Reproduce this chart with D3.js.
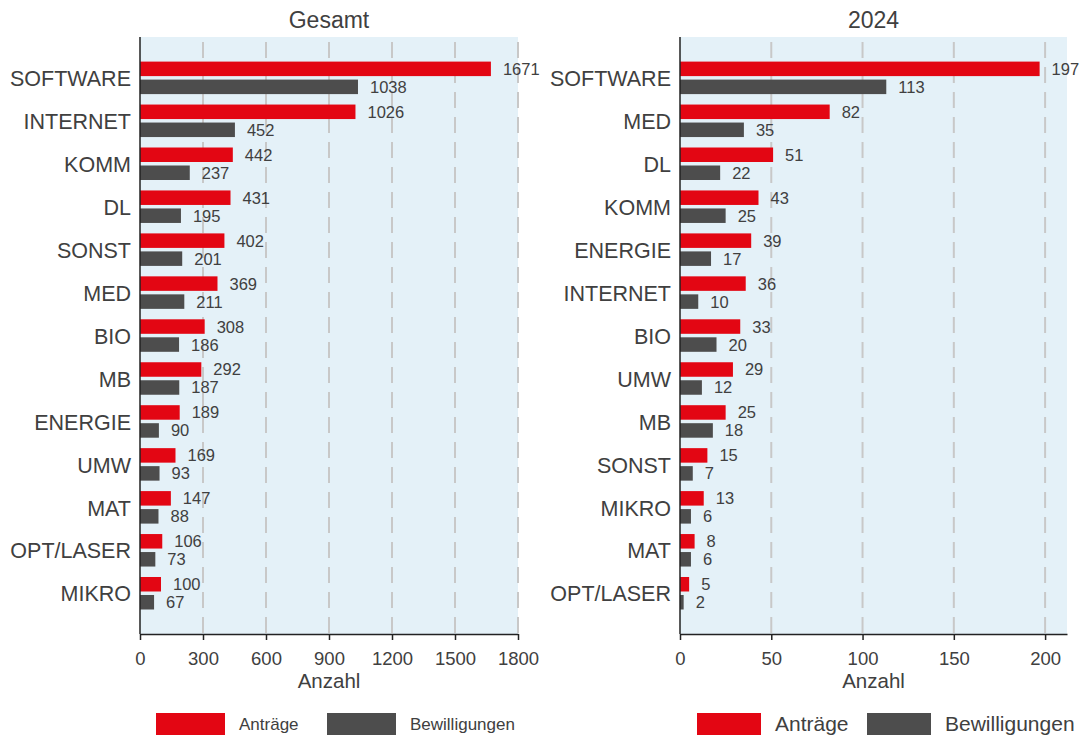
<!DOCTYPE html>
<html>
<head>
<meta charset="utf-8">
<script src="https://cdn.jsdelivr.net/npm/d3@7"></script>
<style>
  body { margin: 0; background: #fff; }
  svg { display: block; font-family: "Liberation Sans", Arial, sans-serif; }
</style>
</head>
<body>
<div id="chart"></div>
<script>
// data
var gesamtKategorien = ["SOFTWARE", "INTERNET", "KOMM", "DL", "SONST", "MED", "BIO", "MB", "ENERGIE", "UMW", "MAT", "OPT/LASER", "MIKRO"];
var gesamtAntraege = [1671, 1026, 442, 431, 402, 369, 308, 292, 189, 169, 147, 106, 100];
var gesamtBewilligungen = [1038, 452, 237, 195, 201, 211, 186, 187, 90, 93, 88, 73, 67];
var gesamtTicks = [0, 300, 600, 900, 1200, 1500, 1800];

var jahrKategorien = ["SOFTWARE", "MED", "DL", "KOMM", "ENERGIE", "INTERNET", "BIO", "UMW", "MB", "SONST", "MIKRO", "MAT", "OPT/LASER"];
var jahrAntraege = [197, 82, 51, 43, 39, 36, 33, 29, 25, 15, 13, 8, 5];
var jahrBewilligungen = [113, 35, 22, 25, 17, 10, 20, 12, 18, 7, 6, 6, 2];
var jahrTicks = [0, 50, 100, 150, 200];

var serien = ["Anträge", "Bewilligungen"];
var farben = ["#e30613", "#4d4d4d"];

var width = 1081,
    height = 738;
var textColor = "#404040";

var svg = d3.select("#chart").append("svg")
    .attr("width", width)
    .attr("height", height);

function drawPanel(opt) {
    var top = 37, bottom = 634;
    var g = svg.append("g");

    var x = d3.scaleLinear().domain([0, opt.max]).range([opt.left, opt.right]);
    var y = d3.scaleBand().domain(opt.cats).range([top, bottom])
        .paddingInner(0).paddingOuter(0.45);

    // background
    g.append("rect")
        .attr("x", opt.left).attr("y", top)
        .attr("width", opt.right - opt.left).attr("height", bottom - top)
        .attr("fill", "#e4f1f8");

    // grid
    g.selectAll(".grid")
        .data(opt.ticks.filter(function(t) { return t > 0; }))
        .enter().append("line")
        .attr("x1", function(d) { return x(d); })
        .attr("x2", function(d) { return x(d); })
        .attr("y1", top).attr("y2", bottom)
        .attr("stroke", "#c8c8c8")
        .attr("stroke-width", 2)
        .attr("stroke-dasharray", "16,9")
        .attr("stroke-dashoffset", -5);

    var bh = 14.5;
    var rows = opt.cats.map(function(c, i) {
        return { cat: c, a: opt.a[i], b: opt.b[i] };
    });

    // bars
    var row = g.selectAll(".row").data(rows).enter().append("g")
        .attr("transform", function(d) { return "translate(0," + (y(d.cat) + y.bandwidth() / 2) + ")"; });

    row.append("rect")
        .attr("x", x(0)).attr("y", -16.2)
        .attr("width", function(d) { return x(d.a) - x(0); })
        .attr("height", bh)
        .attr("fill", farben[0]);
    row.append("rect")
        .attr("x", x(0)).attr("y", 1.8)
        .attr("width", function(d) { return x(d.b) - x(0); })
        .attr("height", bh)
        .attr("fill", farben[1]);

    row.append("text")
        .attr("x", function(d) { return x(d.a) + 12; })
        .attr("y", -16.2 + bh / 2)
        .attr("dy", "0.36em")
        .attr("font-size", 16.5)
        .attr("fill", textColor)
        .text(function(d) { return d.a; });
    row.append("text")
        .attr("x", function(d) { return x(d.b) + 12; })
        .attr("y", 1.8 + bh / 2)
        .attr("dy", "0.36em")
        .attr("font-size", 16.5)
        .attr("fill", textColor)
        .text(function(d) { return d.b; });

    // category labels
    row.append("text")
        .attr("x", opt.left - 9)
        .attr("y", 0.5)
        .attr("dy", "0.36em")
        .attr("text-anchor", "end")
        .attr("font-size", 21.5)
        .attr("fill", textColor)
        .text(function(d) { return d.cat; });

    // axes
    g.append("line")
        .attr("x1", opt.left).attr("x2", opt.left)
        .attr("y1", top).attr("y2", bottom)
        .attr("stroke", "#222").attr("stroke-width", 1.5);

    var xAxis = g.append("g")
        .attr("transform", "translate(0," + bottom + ")")
        .call(d3.axisBottom(x).tickValues(opt.ticks).tickFormat(d3.format("d"))
            .tickSize(6).tickSizeOuter(0).tickPadding(12));
    xAxis.select(".domain").attr("stroke", "#222").attr("stroke-width", 1.5);
    xAxis.selectAll(".tick line").attr("stroke", "#222").attr("stroke-width", 1.5);
    xAxis.selectAll(".tick text")
        .attr("font-size", 18.5)
        .attr("font-family", "Liberation Sans, Arial, sans-serif")
        .attr("fill", textColor);

    g.append("text")
        .attr("x", (opt.left + opt.right) / 2)
        .attr("y", 688)
        .attr("text-anchor", "middle")
        .attr("font-size", 20.5)
        .attr("fill", textColor)
        .text("Anzahl");

    // title
    g.append("text")
        .attr("x", (opt.left + opt.right) / 2)
        .attr("y", 28)
        .attr("text-anchor", "middle")
        .attr("font-size", 23)
        .attr("fill", textColor)
        .text(opt.title);

    // legend
    var leg = g.selectAll(".leg").data(serien).enter().append("g")
        .attr("transform", function(d, i) { return "translate(" + opt.legX[i] + ",713)"; });
    leg.append("rect")
        .attr("width", opt.legW).attr("height", 22)
        .attr("fill", function(d, i) { return farben[i]; });
    leg.append("text")
        .attr("x", opt.legW + 14)
        .attr("y", 11)
        .attr("dy", "0.35em")
        .attr("font-size", opt.legFont)
        .attr("fill", textColor)
        .text(function(d) { return d; });
}

drawPanel({
    title: "Gesamt",
    cats: gesamtKategorien, a: gesamtAntraege, b: gesamtBewilligungen,
    ticks: gesamtTicks, max: 1800,
    left: 140, right: 518,
    legX: [156, 327], legW: 69, legFont: 17
});

drawPanel({
    title: "2024",
    cats: jahrKategorien, a: jahrAntraege, b: jahrBewilligungen,
    ticks: jahrTicks, max: 212,
    left: 680, right: 1067,
    legX: [697, 867], legW: 64, legFont: 21
});
</script>
</body>
</html>
